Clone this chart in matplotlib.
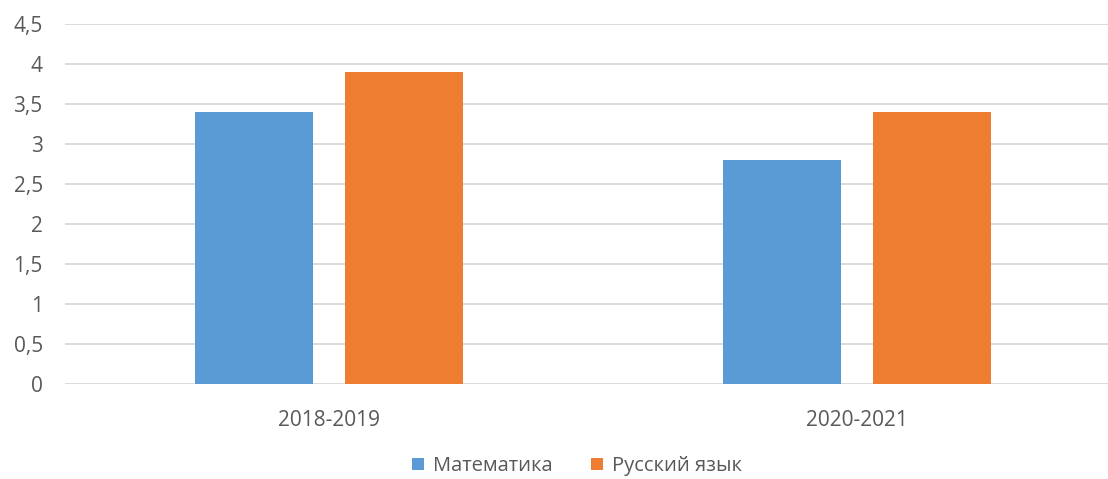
import matplotlib
matplotlib.use("Agg")
import matplotlib.pyplot as plt
import numpy as np
from matplotlib.ticker import FuncFormatter

categories = ["2018-2019", "2020-2021"]
series_names = ["Математика", "Русский язык"]
math_vals = [3.4, 2.8]
russian_vals = [3.9, 3.4]
colors = ["#5B9BD5", "#ED7D31"]

plt.rcParams['font.family'] = ['Open Sans', 'DejaVu Sans']

W, H = 1108, 479
fig = plt.figure(figsize=(W / 100, H / 100), dpi=100)
# axes extends slightly past the right edge, as in the reference
left, right, bottom, top = 65, 1121, 384, 24
ax = fig.add_axes([left / W, (H - bottom) / H, (right - left) / W, (bottom - top) / H])

x = np.arange(len(categories))
bw = 0.2235
off = 0.142
ax.bar(x - off, math_vals, bw, color=colors[0], label=series_names[0], zorder=3)
ax.bar(x + off, russian_vals, bw, color=colors[1], label=series_names[1], zorder=3)

ax.set_xlim(-0.5, len(categories) - 0.5)
ax.set_ylim(0, 4.5)
ax.set_yticks(np.arange(0, 4.51, 0.5))
ax.yaxis.set_major_formatter(FuncFormatter(lambda v, p: f"{v:g}".replace(".", ",")))
ax.set_xticks(x)
ax.set_xticklabels(categories)

for s in ax.spines.values():
    s.set_visible(False)
ax.grid(axis="y", color="#D9D9D9", linewidth=1.3, zorder=0)
ax.set_axisbelow(True)
ax.tick_params(axis="both", length=0, labelsize=15, colors="#595959")
ax.tick_params(axis="y", pad=16)
ax.tick_params(axis="x", pad=19)

fig.legend(loc="center", bbox_to_anchor=(577 / W, 1 - 466 / H), ncol=2, frameon=False,
           fontsize=14.5, labelcolor="#595959", handlelength=0.6, handleheight=0.6,
           handletextpad=0.45, columnspacing=1.9)

fig.savefig("out.png", dpi=100)
